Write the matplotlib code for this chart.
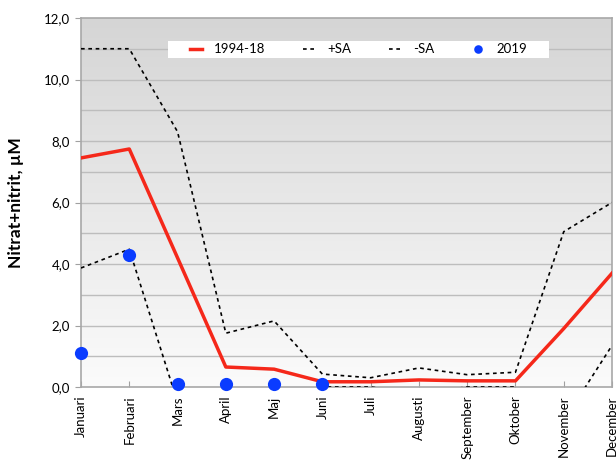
import matplotlib
matplotlib.use("Agg")
import matplotlib.pyplot as plt
import matplotlib.patches as mpatches
import numpy as np

months = ["Januari", "Februari", "Mars", "April", "Maj", "Juni", "Juli",
          "Augusti", "September", "Oktober", "November", "December"]
mean_9418 = [7.45, 7.74, 4.2, 0.65, 0.58, 0.17, 0.17, 0.23, 0.2, 0.2, 1.9, 3.7]
plus_sa = [11.0, 11.0, 8.3, 1.75, 2.15, 0.42, 0.3, 0.62, 0.4, 0.48, 5.05, 6.0]
minus_sa = [3.87, 4.48, -0.5, -0.45, -0.99, 0.0, 0.0, -0.2, 0.0, 0.0, -1.1, 1.35]
obs_2019 = [1.1, 4.3, 0.1, 0.1, 0.1, 0.1]
yticks = [0, 2, 4, 6, 8, 10, 12]
ytick_labels = ["0,0", "2,0", "4,0", "6,0", "8,0", "10,0", "12,0"]

plt.rcParams['font.family'] = ['Lato', 'DejaVu Sans']

fig = plt.figure(figsize=(6.16, 4.66), dpi=100)
ax = fig.add_axes([81/616, 79/466, 531/616, 369/466])

x = np.arange(len(months))

# gradient background: gray at top, near white at bottom
grad = np.linspace(0, 1, 256).reshape(-1, 1)
cmap = matplotlib.colors.LinearSegmentedColormap.from_list("bg", ["#d5d5d5", "#fbfbfb"])
ax.imshow(grad, cmap=cmap, aspect="auto", extent=[0, 1, 0, 1], origin="upper",
          transform=ax.transAxes, zorder=0)

for yv in np.arange(1, 12, 1):
    ax.axhline(yv, color="#bdbdbd", lw=1.0, zorder=1)

ax.plot(x, mean_9418, color="#f5281a", lw=2.5, zorder=4, label="1994-18")
ax.plot(x, plus_sa, color="black", lw=1.2, ls=(0, (2.2, 2.2)), zorder=3, label="+SA")
ax.plot(x, minus_sa, color="black", lw=1.2, ls=(0, (2.2, 2.2)), zorder=3, label="-SA")
ax.plot(x[:len(obs_2019)], obs_2019, "o", color="#0a3cff", ms=9.5, zorder=5,
        label="2019", clip_on=False, markeredgewidth=0)

ax.set_xlim(0, 11)
ax.set_ylim(0, 12)
ax.set_xticks(x)
ax.set_xticklabels(months, rotation=90, fontsize=9.5)
ax.set_yticks(yticks)
ax.set_yticklabels(ytick_labels, fontsize=9.5)
ax.tick_params(axis="x", direction="in", length=4, color="#a0a0a0", pad=6)
ax.tick_params(axis="y", direction="out", length=4, color="#a0a0a0", pad=4)
for s in ax.spines.values():
    s.set_color("#a8a8a8")
    s.set_linewidth(1.2)

ax.set_ylabel("Nitrat+nitrit, µM", fontsize=12.5, fontweight="bold", labelpad=14)

# legend box
bx0, by0, bw, bh = 0.1635, 0.892, 0.718, 0.046
ax.add_patch(mpatches.Rectangle((bx0, by0), bw, bh, transform=ax.transAxes,
                                facecolor="white", edgecolor="none", zorder=6))
leg = ax.legend(loc="center", bbox_to_anchor=(bx0 + bw / 2, by0 + bh / 2),
                ncol=4, frameon=False, fontsize=9.5, handlelength=0.9,
                handletextpad=0.9, columnspacing=2.9, borderaxespad=0,
                borderpad=0.0, markerscale=0.65)
leg.set_zorder(7)

fig.savefig("out.png", dpi=100, facecolor="white")
